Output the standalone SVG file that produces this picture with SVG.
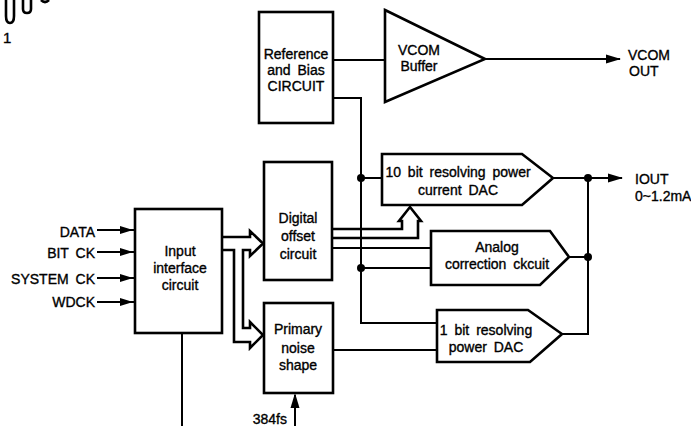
<svg xmlns="http://www.w3.org/2000/svg" xmlns:xlink="http://www.w3.org/1999/xlink" width="691" height="426" viewBox="0 0 691 426">
<style>
.b{fill:none;stroke:#000;stroke-width:2.6;stroke-linejoin:miter}
.l{fill:none;stroke:#000;stroke-width:2}
text{font-family:"Liberation Sans",Arial,sans-serif;font-size:14px;word-spacing:3px;fill:#000;stroke:#000;stroke-width:0.35}
.c{text-anchor:middle}
.r{text-anchor:end}
</style>
<defs>
<path id="ah" d="M0,0 L-15,-4.5 L-15,4.5 Z" fill="#000"/>
<path id="ahs" d="M0,0 L-13,-4 L-13,4 Z" fill="#000"/>
</defs>
<rect width="691" height="426" fill="#fff"/>

<g id="corner">
<path class="b" d="M6,0 V16 Q6,23 10,23 Q14,23 14,16 V0"/>
<path class="b" d="M23,0 V9 Q23,13 27,13 Q31,13 31,9 V0"/>
<path class="b" d="M41,0 Q45,4 49,0"/>
<text x="3" y="43" style="font-size:15px">1</text>
</g>

<g id="connectors">
<path class="l" d="M333,60 H385"/>
<path class="l" d="M485,59 H620"/>
<use xlink:href="#ah" x="621" y="59"/>
<path class="l" d="M333,98 H361 V323 H437"/>
<path class="l" d="M361,178 H382"/>
<path class="l" d="M361,268 H431"/>
<path class="l" d="M332,248 H431"/>
<path class="l" d="M553,178 H622"/>
<use xlink:href="#ah" x="623" y="178"/>
<path class="l" d="M569,257 H588"/>
<path class="l" d="M562,334 H588 V178"/>
<path class="l" d="M333,350 H437"/>
<path class="l" d="M182,333 V426"/>
<path class="l" d="M295,426 V395"/>
<path d="M295,393 L290.5,408 L299.5,408 Z" fill="#000"/>
<path class="l" d="M97,230 H135"/>
<use xlink:href="#ahs" x="133" y="230"/>
<path class="l" d="M97,252 H135"/>
<use xlink:href="#ahs" x="133" y="252"/>
<path class="l" d="M97,278 H135"/>
<use xlink:href="#ahs" x="133" y="278"/>
<path class="l" d="M97,302 H135"/>
<use xlink:href="#ahs" x="133" y="302"/>
<path class="b" d="M222,237 H250 V231 L263,243.5 L250,256 V250 H243 V328 H250 V322 L263,335 L250,348 V342 H234 V250 H222"/>
<path class="b" d="M332,229 H402 V221 H399 L410,207 L421,221 H418 V238 H332"/>
<circle cx="361" cy="178" r="4"/>
<circle cx="361" cy="268" r="4"/>
<circle cx="588" cy="178" r="4"/>
<circle cx="588" cy="257" r="4"/>
</g>

<g id="ref">
<rect class="b" x="259" y="12" width="74" height="111"/>
<text class="c" x="296" y="59">Reference</text>
<text class="c" x="296" y="75">and Bias</text>
<text class="c" x="296" y="91">CIRCUIT</text>
</g>

<g id="vcom">
<path class="b" d="M385,10 L485,59 L385,102 Z"/>
<text class="c" x="419" y="55">VCOM</text>
<text class="c" x="419" y="71">Buffer</text>
</g>

<g id="vcomout">
<text x="628" y="60">VCOM</text>
<text x="629" y="76">OUT</text>
</g>

<g id="dac10">
<path class="b" d="M382,154 H522 L553,178 L522,205 H382 Z"/>
<text class="c" x="458" y="177">10 bit resolving power</text>
<text class="c" x="458" y="195">current DAC</text>
</g>

<g id="iout">
<text x="635" y="184">IOUT</text>
<text x="635" y="201">0~1.2mA</text>
</g>

<g id="analog">
<path class="b" d="M431,231 H550 L569,257 L540,285 H431 Z"/>
<text class="c" x="497" y="252">Analog</text>
<text class="c" x="497" y="269">correction ckcuit</text>
</g>

<g id="dac1">
<path class="b" d="M437,310 H528 L562,334 L530,362 H437 Z"/>
<text class="c" x="486" y="335">1 bit resolving</text>
<text class="c" x="486" y="352">power DAC</text>
</g>

<g id="input">
<rect class="b" x="135" y="209" width="87" height="124"/>
<text class="c" x="180" y="256">Input</text>
<text class="c" x="180" y="273">interface</text>
<text class="c" x="180" y="290">circuit</text>
</g>

<g id="inputs">
<text class="r" x="95" y="237">DATA</text>
<text class="r" x="95" y="258">BIT CK</text>
<text class="r" x="95" y="284">SYSTEM CK</text>
<text class="r" x="95" y="307">WDCK</text>
</g>

<g id="digital">
<rect class="b" x="264" y="162" width="68" height="118"/>
<text class="c" x="298" y="223">Digital</text>
<text class="c" x="298" y="241">offset</text>
<text class="c" x="298" y="259">circuit</text>
</g>

<g id="primary">
<rect class="b" x="264" y="303" width="69" height="90"/>
<text class="c" x="298" y="334">Primary</text>
<text class="c" x="298" y="353">noise</text>
<text class="c" x="298" y="370">shape</text>
</g>

<g id="clk">
<text class="r" x="287" y="424">384fs</text>
</g>
</svg>
